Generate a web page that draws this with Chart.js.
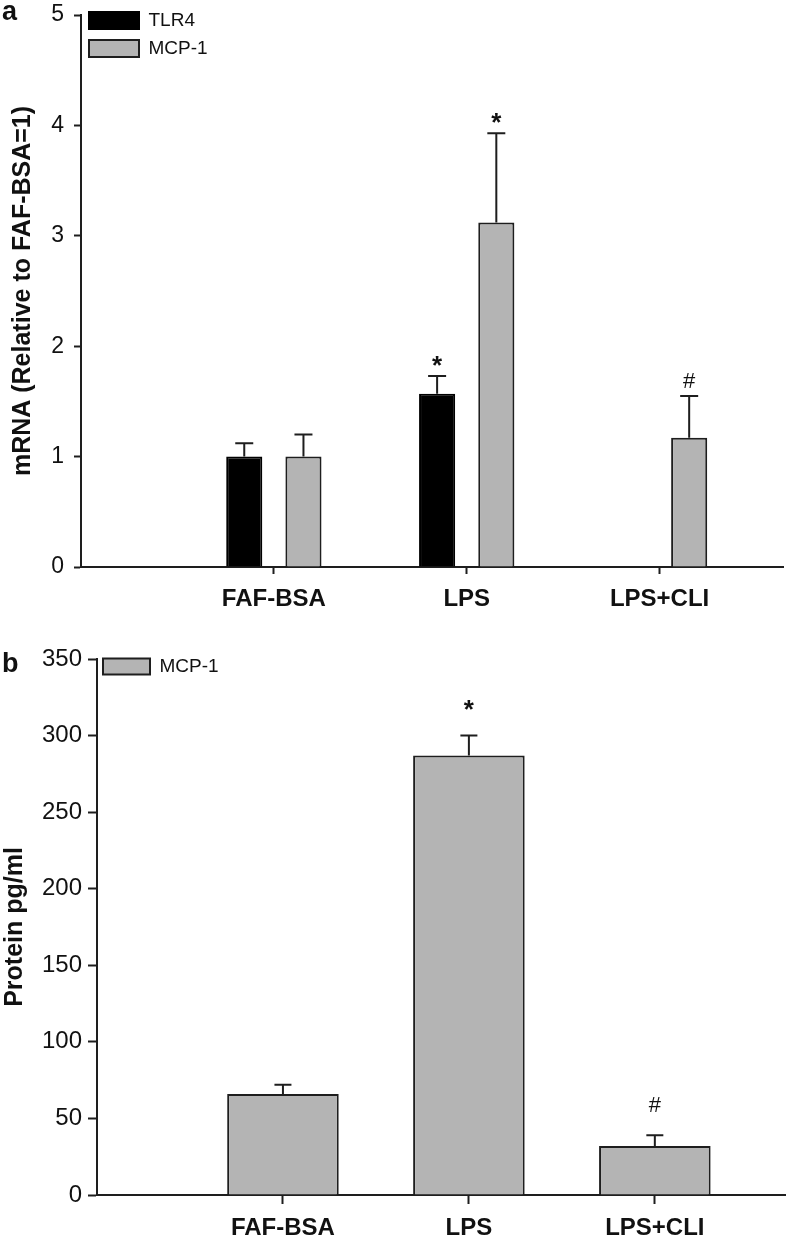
<!DOCTYPE html>
<html>
<head>
<meta charset="utf-8">
<script src="https://cdn.jsdelivr.net/npm/chart.js@4.4.1/dist/chart.umd.min.js"></script>
<style>
  html, body { margin: 0; padding: 0; background: #fff; }
  body { width: 789px; height: 1240px; position: relative; overflow: hidden; font-family: "Liberation Sans", Arial, sans-serif; }
  .panel { position: absolute; left: 0; width: 789px; }
  #wrapA { top: 0; height: 630px; }
  #wrapB { top: 630px; height: 610px; }
  .letter { position: absolute; left: 2px; font-weight: bold; font-size: 27px; line-height: 1; color: #111; }
</style>
</head>
<body>
<div class="panel" id="wrapA"><canvas id="chartA"></canvas></div>
<div class="panel" id="wrapB"><canvas id="chartB"></canvas></div>
<div class="letter" style="top:-2px">a</div>
<div class="letter" style="top:650px">b</div>
<script>
// groups on the x axis (placed at 0, 1, 2 on a linear scale)
const categories = ['FAF-BSA', 'LPS', 'LPS+CLI']
const categoryPos = [0, 1, 2]

// panel a - mRNA relative to FAF-BSA
const tlr4Mrna = [1.0, 1.57, null]
const tlr4MrnaErr = [0.12, 0.16, null]
const tlr4MrnaMarks = ['', '*', '']
const mcp1Mrna = [1.0, 3.12, 1.17]
const mcp1MrnaErr = [0.2, 0.81, 0.38]
const mcp1MrnaMarks = ['', '*', '#']
const mrnaTicks = [0, 1, 2, 3, 4, 5]

// panel b - MCP-1 protein
const mcp1Protein = [66, 287, 32]
const mcp1ProteinErr = [6, 13, 7]
const mcp1ProteinMarks = ['', '*', '#']
const proteinTicks = [0, 50, 100, 150, 200, 250, 300, 350]

const GRAY = '#b4b4b4'
const INK = '#1e1e1e'
const FONT = '"Liberation Sans", Arial, Helvetica, sans-serif'

Chart.defaults.font.family = FONT
Chart.defaults.color = '#111'

const points = (vals) => categoryPos.map((x, i) => ({x: x, y: vals[i]})).filter(p => p.y !== null)

// one-sided error bars plus the * / # marks above them
const errorBars = {
    id: 'errorBars',
    afterDatasetsDraw(chart, args, opts) {
        const ctx = chart.ctx
        const yScale = chart.scales.y
        chart.data.datasets.forEach((ds, di) => {
            const meta = chart.getDatasetMeta(di)
            meta.data.forEach((bar, i) => {
                const v = ds.data[i].y
                const idx = categoryPos.indexOf(ds.data[i].x)
                const err = ds.errors[idx]
                if (v == null || err == null) return
                const yTop = yScale.getPixelForValue(v + err)
                ctx.save()
                ctx.strokeStyle = INK
                ctx.lineWidth = 2
                ctx.beginPath()
                ctx.moveTo(bar.x, bar.y)
                ctx.lineTo(bar.x, yTop)
                ctx.moveTo(bar.x - opts.cap / 2, yTop)
                ctx.lineTo(bar.x + opts.cap / 2, yTop)
                ctx.stroke()
                const mark = ds.marks[idx]
                if (mark) {
                    ctx.fillStyle = '#111'
                    ctx.font = (mark === '*' ? 'bold 26px ' : '22px ') + FONT
                    ctx.textAlign = 'center'
                    ctx.textBaseline = 'alphabetic'
                    const m = ctx.measureText(mark)
                    const cy = yTop - opts.markGap
                    ctx.fillText(mark, bar.x, cy + (m.actualBoundingBoxAscent - m.actualBoundingBoxDescent) / 2)
                }
                ctx.restore()
            })
        })
    }
}

// nudge the legend inside the plot area
const legendInside = {
    id: 'legendInside',
    afterLayout(chart, args, opts) {
        const lg = chart.legend
        const ca = chart.chartArea
        lg.left = ca.left + opts.dx
        lg.top = ca.top + opts.dy
        lg.right = lg.left + lg.width
        lg.bottom = lg.top + lg.height
    }
}

function xAxis(max, tickLen, pad, height) {
    return {
        type: 'linear', min: -1, max: max, offset: false,
        afterBuildTicks: (s) => { s.ticks = categoryPos.map(v => ({value: v})) },
        afterFit: (s) => { s.height = height },
        ticks: {
            callback: (v) => categories[categoryPos.indexOf(v)] || '',
            font: {size: 24, weight: 'bold'}, color: '#111', padding: pad,
            maxRotation: 0, autoSkip: false
        },
        grid: {display: true, drawOnChartArea: false, offset: false, tickLength: tickLen, tickWidth: 2, tickColor: INK},
        border: {display: true, color: INK, width: 2}
    }
}

function yAxis(max, ticks, title, tickLen, pad, titlePad, width, fontSize) {
    return {
        min: 0, max: max,
        afterBuildTicks: (s) => { s.ticks = ticks.map(v => ({value: v})) },
        afterFit: (s) => { s.width = width; s.paddingTop = 0; s.paddingBottom = 0 },
        ticks: {font: {size: fontSize}, color: '#111', padding: pad},
        grid: {drawOnChartArea: false, tickLength: tickLen, tickWidth: 2, tickColor: INK},
        border: {display: true, color: INK, width: 2},
        title: {display: true, text: title, color: '#111', font: {size: 25, weight: 'bold'}, padding: {top: titlePad, bottom: 0}}
    }
}

let chartA = new Chart(document.getElementById('chartA'), {
    type: 'bar',
    data: {
        datasets: [
            {label: 'TLR4', data: points(tlr4Mrna), errors: tlr4MrnaErr, marks: tlr4MrnaMarks,
             backgroundColor: '#000', borderColor: '#000', borderWidth: 2},
            {label: 'MCP-1', data: points(mcp1Mrna), errors: mcp1MrnaErr, marks: mcp1MrnaMarks,
             backgroundColor: GRAY, borderColor: INK, borderWidth: 2}
        ]
    },
    options: {
        responsive: true, maintainAspectRatio: false, animation: false,
        categoryPercentage: 0.614, barPercentage: 0.61,
        layout: {padding: {top: 15, right: 6, left: 0, bottom: 0}},
        scales: {
            x: xAxis(2.64, 7, 11, 63),
            y: yAxis(5, mrnaTicks, 'mRNA (Relative to FAF-BSA=1)', 7, 10, 8, 81, 23)
        },
        plugins: {
            legend: {
                position: 'chartArea', align: 'start',
                labels: {boxWidth: 50, boxHeight: 17, padding: 9, color: '#111', font: {size: 19}}
            },
            legendInside: {dx: -1, dy: -13},
            errorBars: {cap: 18, markGap: 15},
            tooltip: {enabled: false}
        }
    },
    plugins: [errorBars, legendInside]
})

let chartB = new Chart(document.getElementById('chartB'), {
    type: 'bar',
    data: {
        datasets: [
            {label: 'MCP-1', data: points(mcp1Protein), errors: mcp1ProteinErr, marks: mcp1ProteinMarks,
             backgroundColor: GRAY, borderColor: INK, borderWidth: 2}
        ]
    },
    options: {
        responsive: true, maintainAspectRatio: false, animation: false,
        categoryPercentage: 1, barPercentage: 0.6,
        layout: {padding: {top: 29, right: 4, left: 0, bottom: 0}},
        scales: {
            x: xAxis(2.7, 9, 10, 45),
            y: yAxis(350, proteinTicks, 'Protein pg/ml', 9, 6, 0, 97, 24)
        },
        plugins: {
            legend: {
                position: 'chartArea', align: 'start',
                labels: {boxWidth: 47, boxHeight: 16, padding: 6, color: '#111', font: {size: 19}}
            },
            legendInside: {dx: 0, dy: -8},
            errorBars: {cap: 17, markGap: 31},
            tooltip: {enabled: false}
        }
    },
    plugins: [errorBars, legendInside]
})
</script>
</body>
</html>
